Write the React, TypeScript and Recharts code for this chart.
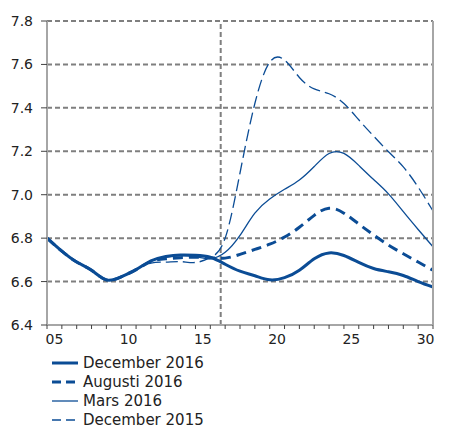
import { CartesianGrid, Line, LineChart, ReferenceLine, XAxis, YAxis } from "recharts";

const years = [
  2005, 2006, 2007, 2008, 2009, 2010, 2011, 2012, 2013, 2014, 2015, 2016, 2017, 2018,
  2019, 2020, 2021, 2022, 2023, 2024, 2025, 2026, 2027, 2028, 2029, 2030, 2031,
];

const dec2016 = [
  6.8, 6.74, 6.69, 6.652, 6.608, 6.622, 6.655, 6.695, 6.715, 6.722, 6.721, 6.712, 6.68, 6.648,
  6.627, 6.608, 6.618, 6.652, 6.705, 6.732, 6.72, 6.688, 6.66, 6.645, 6.628, 6.6, 6.575,
];
const aug2016 = [
  6.8, 6.74, 6.69, 6.652, 6.608, 6.622, 6.655, 6.692, 6.705, 6.71, 6.712, 6.71, 6.708, 6.725,
  6.748, 6.772, 6.805, 6.85, 6.905, 6.938, 6.915, 6.865, 6.815, 6.768, 6.728, 6.69, 6.652,
];
const mar2016 = [
  6.8, 6.74, 6.69, 6.652, 6.608, 6.622, 6.655, 6.695, 6.713, 6.72, 6.715, 6.705, 6.735, 6.813,
  6.915, 6.98, 7.025, 7.068, 7.13, 7.19, 7.19, 7.135, 7.07, 7.004, 6.922, 6.84, 6.76,
];
const dec2015 = [
  6.8, 6.74, 6.69, 6.652, 6.608, 6.622, 6.655, 6.685, 6.69, 6.692, 6.688, 6.71, 6.8, 7.1,
  7.42, 7.61, 7.62, 7.54, 7.487, 7.465, 7.42, 7.345, 7.27, 7.198, 7.128, 7.035, 6.925,
];

const yTicks = [6.4, 6.6, 6.8, 7.0, 7.2, 7.4, 7.6, 7.8];
const forecastStart = 2016.7;

const series = [
  { key: "dec2016", name: "December 2016", width: 3, dash: undefined },
  { key: "aug2016", name: "Augusti 2016", width: 3, dash: "10 6" },
  { key: "mar2016", name: "Mars 2016", width: 1.3, dash: undefined },
  { key: "dec2015", name: "December 2015", width: 1.3, dash: "12 5" },
];

const data = years.map((year, i) => ({
  year,
  dec2016: dec2016[i],
  aug2016: aug2016[i],
  mar2016: mar2016[i],
  dec2015: dec2015[i],
}));

const blue = "#0b4c95";
const gridColor = "#7f7f7f";
const font = "DejaVu Sans, Verdana, sans-serif";
const tickStyle = { fill: "#222", fontSize: 14, fontFamily: font };

export default function App() {
  return (
    <div style={{ position: "absolute", left: 0, top: 0, width: 471, height: 428, background: "#fff" }}>
      <LineChart width={471} height={350} data={data} margin={{ top: 21, right: 0, bottom: 0, left: 0 }}>
        <CartesianGrid
          yAxisId="left"
          horizontal
          vertical={false}
          stroke={gridColor}
          strokeWidth={2}
          strokeDasharray="5 3"
        />
        <XAxis
          dataKey="year"
          type="number"
          domain={[2005, 2031]}
          ticks={years}
          interval={0}
          tickFormatter={(v: number) => (v % 5 === 0 && v < 2031 ? String(v).slice(2) : "")}
          tick={{ ...tickStyle, dx: 7.4 }}
          tickSize={4}
          tickMargin={5}
          height={25}
          axisLine={{ stroke: "#a6a6a6", strokeWidth: 2 }}
          tickLine={{ stroke: "#404040" }}
        />
        <YAxis
          yAxisId="left"
          domain={[6.4, 7.8]}
          ticks={yTicks}
          tickFormatter={(v: number) => v.toFixed(1)}
          tick={tickStyle}
          width={47}
          tickSize={6}
          tickMargin={8}
          axisLine={{ stroke: "#a6a6a6", strokeWidth: 2 }}
          tickLine={{ stroke: "#404040" }}
        />
        <YAxis
          yAxisId="right"
          orientation="right"
          domain={[6.4, 7.8]}
          ticks={yTicks}
          tickFormatter={(v: number) => v.toFixed(1)}
          tick={{ ...tickStyle, textAnchor: "start" }}
          width={38}
          tickSize={6}
          tickMargin={4}
          axisLine={{ stroke: "#a6a6a6", strokeWidth: 2 }}
          tickLine={{ stroke: "#404040" }}
        />
        <ReferenceLine
          yAxisId="left"
          x={forecastStart}
          stroke={gridColor}
          strokeWidth={2}
          strokeDasharray="5 3"
        />
        {series.map((s) => (
          <Line
            key={s.key}
            yAxisId="left"
            type="natural"
            dataKey={s.key}
            name={s.name}
            stroke={blue}
            strokeWidth={s.width}
            strokeDasharray={s.dash}
            dot={false}
            activeDot={false}
            isAnimationActive={false}
          />
        ))}
      </LineChart>
      <div style={{ position: "absolute", left: 52, top: 353, fontFamily: font, fontSize: 15, color: "#222" }}>
        {series.map((s) => (
          <div key={s.key} style={{ display: "flex", alignItems: "center", height: 19.2 }}>
            <svg width={26} height={8} style={{ marginRight: 5 }}>
              <line
                x1={0}
                y1={4}
                x2={26}
                y2={4}
                stroke={blue}
                strokeWidth={s.width}
                strokeDasharray={s.dash ? "9 5" : undefined}
              />
            </svg>
            <span>{s.name}</span>
          </div>
        ))}
      </div>
    </div>
  );
}
